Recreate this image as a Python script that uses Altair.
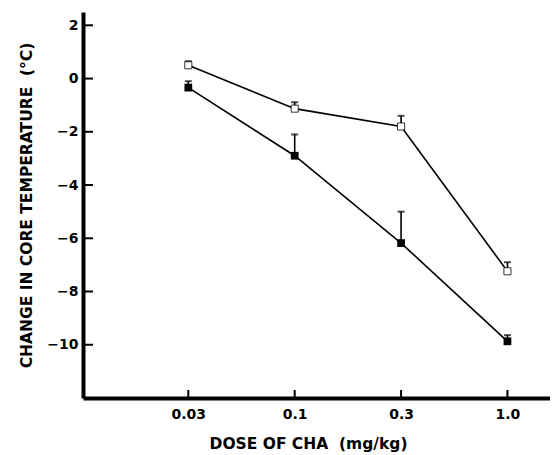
import altair as alt
import pandas as pd

doses = ["0.03", "0.1", "0.3", "1.0"]
open_mean = [0.5, -1.13, -1.8, -7.24]
open_upper = [0.65, -0.89, -1.4, -6.9]
filled_mean = [-0.34, -2.9, -6.18, -9.87]
filled_upper = [-0.1, -2.1, -5.0, -9.64]
y_ticks = [2, 0, -2, -4, -6, -8, -10]

rows = []
for i, d in enumerate(doses):
    rows.append({"idx": i, "dose": d, "group": "open", "mean": open_mean[i], "upper": open_upper[i]})
    rows.append({"idx": i, "dose": d, "group": "filled", "mean": filled_mean[i], "upper": filled_upper[i]})
df = pd.DataFrame(rows)
ytick_df = pd.DataFrame({"v": y_ticks})
xtick_df = pd.DataFrame({"idx": list(range(len(doses)))})

FONT = "DejaVu Sans"
label_expr = "[" + ",".join("'%s'" % d for d in doses) + "][datum.value]"

xscale = alt.Scale(domain=[-0.99, 3.4], nice=False, zero=False)
yscale = alt.Scale(domain=[-12, 2.5], nice=False, zero=False)

x_enc = alt.X("idx:Q", scale=xscale, axis=alt.Axis(
    values=list(range(len(doses))), labelExpr=label_expr, tickSize=0,
    domainWidth=4, domainColor="black", grid=False,
    labelFont=FONT, labelFontWeight="bold", labelFontSize=14, labelColor="black",
    labelPadding=9, title="DOSE OF CHA\u00a0 (mg/kg)", titleFont=FONT,
    titleFontWeight="bold", titleFontSize=15.5, titleColor="black", titlePadding=15,
    titleX=225))
y_enc = alt.Y("mean:Q", scale=yscale, axis=alt.Axis(
    values=y_ticks, labelExpr="replace(datum.value + '', '-', '\u2212')", tickSize=0,
    domainWidth=4, domainColor="black", grid=False,
    labelFont=FONT, labelFontWeight="bold", labelFontSize=14, labelColor="black",
    labelPadding=5, title="CHANGE IN CORE TEMPERATURE\u00a0 (°C)", titleFont=FONT,
    titleFontWeight="bold", titleFontSize=15.5, titleColor="black", titlePadding=12))

base = alt.Chart(df)

lines = base.mark_line(color="black", strokeWidth=1.6).encode(
    x=x_enc, y=y_enc, detail="group:N")

err = base.mark_rule(color="black", strokeWidth=1.6).encode(
    x=alt.X("idx:Q", scale=xscale), y=alt.Y("mean:Q", scale=yscale), y2="upper:Q")
caps = base.mark_tick(color="black", orient="horizontal", size=7, thickness=2).encode(
    x=alt.X("idx:Q", scale=xscale), y=alt.Y("upper:Q", scale=yscale))

filled_pts = base.transform_filter("datum.group == 'filled'").mark_square(
    size=60, color="black", opacity=1).encode(
    x=alt.X("idx:Q", scale=xscale), y=alt.Y("mean:Q", scale=yscale))
open_pts = base.transform_filter("datum.group == 'open'").mark_square(
    size=50, fill="white", stroke="black", strokeWidth=0.8, opacity=1, filled=True).encode(
    x=alt.X("idx:Q", scale=xscale), y=alt.Y("mean:Q", scale=yscale))

yticks = alt.Chart(ytick_df).mark_rule(color="black", strokeWidth=2).encode(
    x=alt.value(0), x2=alt.value(10), y=alt.Y("v:Q", scale=yscale))
xticks = alt.Chart(xtick_df).mark_rule(color="black", strokeWidth=2).encode(
    x=alt.X("idx:Q", scale=xscale), y=alt.value(386), y2=alt.value(378))

chart = alt.layer(lines, err, caps, filled_pts, open_pts, yticks, xticks).properties(
    width=467, height=386,
    autosize=alt.AutoSizeParams(type="none"),
    padding={"left": 75, "top": 4, "right": 0, "bottom": 55},
    background="white",
).configure_view(stroke=None)

chart.save("out.html", embed_options={"renderer": "svg", "actions": False})
